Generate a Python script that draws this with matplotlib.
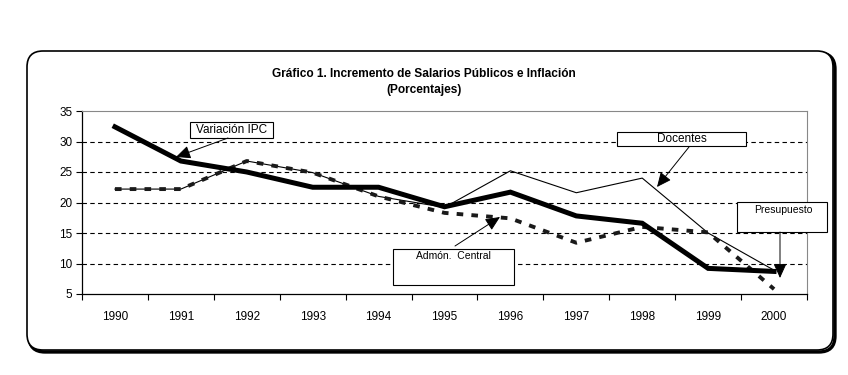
import matplotlib
matplotlib.use("Agg")
import matplotlib.pyplot as plt
from matplotlib.patches import FancyBboxPatch, Rectangle

plt.rcParams["font.family"] = ["Liberation Sans", "DejaVu Sans"]

# ── DATA ──────────────────────────────────────────────────────────────────────
years = ["1990", "1991", "1992", "1993", "1994", "1995",
         "1996", "1997", "1998", "1999", "2000"]
ipc      = [32.4, 26.8, 25.0, 22.5, 22.5, 19.3, 21.7, 17.8, 16.6, 9.2, 8.7]
docentes = [22.2, 22.2, 26.8, 24.9, 21.0, 19.2, 25.2, 21.6, 24.0, 15.0, 8.9]
admon    = [22.2, 22.2, 26.8, 24.9, 21.0, 18.3, 17.4, 13.4, 16.0, 15.1, 5.8]
y_ticks  = [5, 10, 15, 20, 25, 30, 35]

W, H = 848, 375
fig = plt.figure(figsize=(W / 100, H / 100), dpi=100)

# background layer in pixel coordinates (rounded frame with shadow)
bg = fig.add_axes([0, 0, 1, 1], zorder=0)
bg.set_xlim(0, W)
bg.set_ylim(H, 0)
bg.axis("off")
shadow = FancyBboxPatch((29, 53), 806, 299, boxstyle="round,pad=0,rounding_size=16",
                        facecolor="none", edgecolor="black", lw=2.4)
frame = FancyBboxPatch((27, 51), 806, 299, boxstyle="round,pad=0,rounding_size=16",
                       facecolor="white", edgecolor="black", lw=1.2)
bg.add_patch(shadow)
bg.add_patch(frame)

# ── MAIN PLOT ─────────────────────────────────────────────────────────────────
ax = fig.add_axes([82 / W, 1 - 294 / H, (807 - 82) / W, (294 - 111) / H], zorder=1)
ax.set_facecolor("none")
x = list(range(len(years)))

for v in y_ticks[1:-1]:
    ax.axhline(v, color="black", lw=0.8, dashes=(4, 3), zorder=1)

ax.plot(x, docentes, color="black", lw=0.8, zorder=2)
ax.plot(x, admon, color="#1a1a1a", lw=2.8, dashes=(1.7, 2.1), zorder=3)
ax.plot(x, ipc, color="black", lw=3.6, solid_joinstyle="miter", zorder=4)

ax.set_xlim(-0.5, len(years) - 0.5)
ax.set_ylim(5, 35)
ax.set_yticks(y_ticks)
ax.set_xticks(x)
ax.set_xticklabels(years)
ax.set_xticks([i - 0.5 for i in range(len(years) + 1)], minor=True)
ax.tick_params(axis="x", which="major", length=0, pad=12, labelsize=8.5)
ax.tick_params(axis="x", which="minor", length=4, width=0.8, direction="out")
ax.tick_params(axis="y", length=4, width=0.8, pad=3, labelsize=8.5)

for side in ("top", "right"):
    ax.spines[side].set_color("#888888")
    ax.spines[side].set_linewidth(0.8)
for side in ("left", "bottom"):
    ax.spines[side].set_linewidth(0.9)

# ── TITLE ─────────────────────────────────────────────────────────────────────
fig.text(0.5, 1 - 74 / H, "Gráfico 1. Incremento de Salarios Públicos e Inflación",
         ha="center", va="center", fontsize=8.6, fontweight="bold")
fig.text(0.5, 1 - 90 / H, "(Porcentajes)",
         ha="center", va="center", fontsize=8.6, fontweight="bold")

# ── CALLOUT LABELS (pixel coordinates, on top) ────────────────────────────────
fg = fig.add_axes([0, 0, 1, 1], zorder=3)
fg.set_facecolor("none")
fg.set_xlim(0, W)
fg.set_ylim(H, 0)
fg.axis("off")

arrow = dict(arrowstyle="-|>,head_length=0.55,head_width=0.25", color="black",
             lw=0.7, mutation_scale=16, shrinkA=0, shrinkB=0)

callouts = [
    # (box x0, y0, x1, y1), text pos, text, fontsize, arrow tail, arrow head
    ((190, 122, 273, 138), (232, 130), "Variación IPC", 8.5, (228, 138), (176, 157)),
    ((617, 132, 746, 146), (682, 139), "Docentes", 8.5, (689, 147), (657, 187)),
    ((393, 249, 514, 285), (453, 256), "Admón.  Central", 7.5, (455, 246), (500, 217)),
    ((737, 202, 827, 232), (783, 210), "Presupuesto", 7.5, (780, 232), (780, 278)),
]
for (x0, y0, x1, y1), (tx, ty), label, fs, tail, head in callouts:
    fg.add_patch(Rectangle((x0, y0), x1 - x0, y1 - y0, facecolor="white",
                           edgecolor="black", lw=0.8))
    fg.text(tx, ty, label, ha="center", va="center", fontsize=fs)
    fg.annotate("", xy=head, xytext=tail, arrowprops=arrow)

fig.savefig("out.png", dpi=100)
